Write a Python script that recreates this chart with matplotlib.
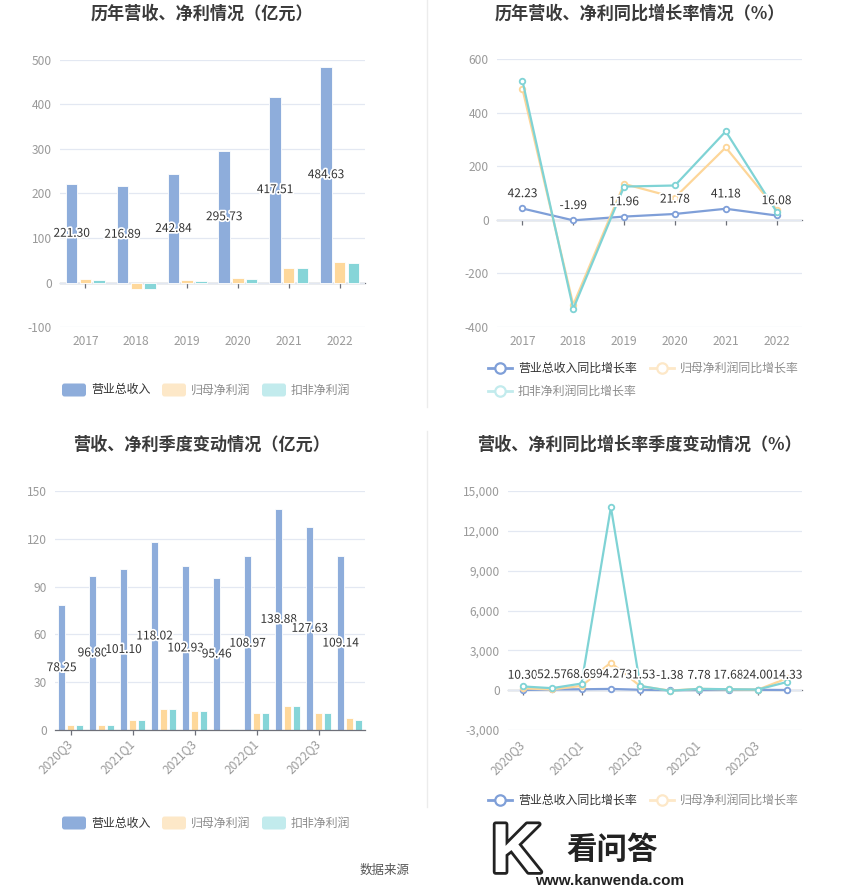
import matplotlib
matplotlib.use('Agg')
import matplotlib.pyplot as plt
import matplotlib.patheffects as pe
from matplotlib.patches import FancyBboxPatch
from matplotlib.lines import Line2D
from matplotlib.ticker import FuncFormatter, MultipleLocator
import numpy as np

plt.rcParams['font.family'] = ['Noto Sans CJK SC', 'DejaVu Sans']
plt.rcParams['axes.unicode_minus'] = False

# ---------------- data ----------------
years = ['2017', '2018', '2019', '2020', '2021', '2022']
rev_year = [221.30, 216.89, 242.84, 295.73, 417.51, 484.63]
np_year = [7.0, -14.0, 4.5, 9.0, 33.0, 46.0]
dnp_year = [6.5, -14.0, 3.0, 7.5, 33.5, 43.0]

rev_yoy = [42.23, -1.99, 11.96, 21.78, 41.18, 16.08]
np_yoy = [489, -317, 134, 83, 270, 38]
dnp_yoy = [519, -332, 124, 128, 330, 30]

quarters = ['2020Q3', '2020Q4', '2021Q1', '2021Q2', '2021Q3',
            '2021Q4', '2022Q1', '2022Q2', '2022Q3', '2022Q4']
rev_q = [78.25, 96.80, 101.10, 118.02, 102.93, 95.46, 108.97, 138.88, 127.63, 109.14]
np_q = [3.1, 3.1, 6.5, 13.0, 11.9, 0.6, 10.9, 15.3, 10.7, 7.7]
dnp_q = [3.1, 3.1, 6.5, 13.0, 12.0, 0.8, 10.9, 15.3, 10.6, 6.1]

rev_q_yoy = [10.30, 52.57, 68.69, 94.27, 31.53, -1.38, 7.78, 17.68, 24.00, 14.33]
np_q_yoy = [130, 60, 320, 2070, 300, -30, 100, 60, 40, 900]
dnp_q_yoy = [280, 150, 500, 13780, 320, -50, 100, 70, 50, 620]

bar_legend = ['营业总收入', '归母净利润', '扣非净利润']
line_legend = ['营业总收入同比增长率', '归母净利润同比增长率', '扣非净利润同比增长率']
titles = ['历年营收、净利情况（亿元）', '历年营收、净利同比增长率情况（%）',
          '营收、净利季度变动情况（亿元）', '营收、净利同比增长率季度变动情况（%）']

# ---------------- style ----------------
C_BLUE = '#8eaddb'
C_ORANGE = '#fed89b'
C_CYAN = '#86d5d8'
L_BLUE = '#7f9fd8'
L_ORANGE = '#fdd699'
L_CYAN = '#7fd3d5'
F_ORANGE = '#fde8c8'
F_CYAN = '#c2ebed'
GRID = '#e3e8f2'
AXIS = '#6e7079'
TICK = '#9a9a9a'
TXT = '#333333'
FS = 8.6

W, H = 850, 891
fig = plt.figure(figsize=(W / 100, H / 100), dpi=100)


def add_ax(l, t, r, b):
    return fig.add_axes([l / W, 1 - b / H, (r - l) / W, (b - t) / H])


def style(ax, ymin, ymax, step, ncat, fmt=None):
    ax.set_xlim(-0.5, ncat - 0.5)
    ax.set_ylim(ymin, ymax)
    ax.yaxis.set_major_locator(MultipleLocator(step))
    if fmt:
        ax.yaxis.set_major_formatter(FuncFormatter(fmt))
    ax.grid(axis='y', color=GRID, lw=0.9)
    ax.set_axisbelow(True)
    for s in ax.spines.values():
        s.set_visible(False)
    ax.tick_params(axis='y', length=0, pad=6, labelsize=FS, labelcolor=TICK)
    ax.tick_params(axis='x', length=0, pad=6, labelsize=FS, labelcolor=TICK)


def zero_axis(ax, frac, ticks):
    sec = ax.secondary_xaxis(frac)
    sec.set_xticks(ticks)
    sec.set_xticklabels([''] * len(ticks))
    sec.tick_params(direction='out', length=3.6, width=0.9, color=AXIS)
    sec.spines['bottom'].set_color(AXIS)
    sec.spines['bottom'].set_linewidth(0.9)
    sec.spines['top'].set_visible(False)
    return sec


stroke = [pe.withStroke(linewidth=2.5, foreground='white')]


def draw_bars(ax, rev, npv, dnp, w, off):
    x = np.arange(len(rev))
    ax.bar(x - off, rev, w, color=C_BLUE, edgecolor='white', lw=0.6, zorder=2)
    ax.bar(x, npv, w, color=C_ORANGE, edgecolor='white', lw=0.6, zorder=2)
    ax.bar(x + off, dnp, w, color=C_CYAN, edgecolor='white', lw=0.6, zorder=2)
    for xi, v in zip(x, rev):
        ax.text(xi - off, v / 2, f'{v:.2f}', ha='center', va='center',
                fontsize=FS, color=TXT, path_effects=stroke, zorder=5)


def draw_lines(ax, rev, npv, dnp):
    x = np.arange(len(rev))
    kw = dict(lw=1.6, marker='o', ms=4, mfc='white', mew=1.3, zorder=3)
    ax.plot(x, rev, color=L_BLUE, **kw)
    ax.plot(x, npv, color=L_ORANGE, **kw)
    ax.plot(x, dnp, color=L_CYAN, **kw)
    for xi, v in zip(x, rev):
        ax.annotate(f'{v:.2f}', (xi, v), xytext=(0, 6), textcoords='offset points',
                    ha='center', va='bottom', fontsize=FS, color=TXT,
                    path_effects=stroke, zorder=6)


def bar_legend_row(y):
    items = [(62, C_BLUE, '#333333'), (162, F_ORANGE, '#8c8c8c'), (262, F_CYAN, '#8c8c8c')]
    for (x, c, tc), lab in zip(items, bar_legend):
        p = FancyBboxPatch((x / W, 1 - (y + 6.5) / H), 24 / W, 13 / H,
                           boxstyle='round,pad=0,rounding_size=0.003',
                           transform=fig.transFigure, fc=c, ec='none')
        fig.add_artist(p)
        fig.text((x + 29) / W, 1 - y / H, lab, ha='left', va='center',
                 fontsize=FS, color=tc)


def line_legend_item(x, y, c, label, tc):
    fig.add_artist(Line2D([x / W, (x + 24) / W], [1 - y / H, 1 - y / H], color=c, lw=2,
                          transform=fig.transFigure))
    fig.add_artist(Line2D([(x + 12) / W], [1 - y / H], color=c, marker='o', ms=7.5,
                          mfc='white', mew=1.6, transform=fig.transFigure))
    fig.text((x + 30) / W, 1 - y / H, label, ha='left', va='center', fontsize=FS, color=tc)


# ---------------- chart 1 ----------------
ax1 = add_ax(60, 60, 365, 327)
style(ax1, -100, 500, 100, 6)
draw_bars(ax1, rev_year, np_year, dnp_year, 0.226, 0.27)
ax1.set_xticks(range(6))
ax1.set_xticklabels(years)
zero_axis(ax1, 100 / 600, list(range(6)))
bar_legend_row(390)

# ---------------- chart 2 ----------------
ax2 = add_ax(497, 59, 802, 327)
style(ax2, -400, 600, 200, 6)
draw_lines(ax2, rev_yoy, np_yoy, dnp_yoy)
ax2.set_xticks(range(6))
ax2.set_xticklabels(years)
zero_axis(ax2, 400 / 1000, list(range(6)))
line_legend_item(488, 368, L_BLUE, line_legend[0], '#333333')
line_legend_item(650, 368, F_ORANGE, line_legend[1], '#8c8c8c')
line_legend_item(488, 391, F_CYAN, line_legend[2], '#8c8c8c')

# ---------------- chart 3 ----------------
ax3 = add_ax(55, 491, 365, 730)
style(ax3, 0, 150, 30, 10)
draw_bars(ax3, rev_q, np_q, dnp_q, 0.23, 0.285)
ax3.spines['bottom'].set_visible(True)
ax3.spines['bottom'].set_color(AXIS)
ax3.spines['bottom'].set_linewidth(0.9)
ax3.set_xticks(range(0, 10, 2))
ax3.set_xticklabels(quarters[::2], rotation=45, ha='right', va='center',
                    rotation_mode='anchor')
ax3.tick_params(axis='x', length=3.6, width=0.9, color=AXIS, pad=5)
bar_legend_row(823)

# ---------------- chart 4 ----------------
ax4 = add_ax(508, 491, 802, 730)
style(ax4, -3000, 15000, 3000, 10, fmt=lambda v, p: f'{v:,.0f}')
draw_lines(ax4, rev_q_yoy, np_q_yoy, dnp_q_yoy)
ax4.set_xticks(range(0, 10, 2))
ax4.set_xticklabels(quarters[::2], rotation=45, ha='right', va='center',
                    rotation_mode='anchor')
ax4.tick_params(axis='x', pad=9)
zero_axis(ax4, 3000 / 18000, list(range(0, 10, 2)))
line_legend_item(488, 800, L_BLUE, line_legend[0], '#333333')
line_legend_item(650, 800, F_ORANGE, line_legend[1], '#8c8c8c')

# ---------------- titles ----------------
for (cx, cy), t in zip([(202, 14), (640, 14), (202, 445), (639, 445)], titles):
    fig.text(cx / W, 1 - cy / H, t, ha='center', va='center', fontsize=12.3,
             fontweight='bold', color='#3a3a3a')

# separators
fig.add_artist(Line2D([427 / W] * 2, [1, 1 - 407 / H], color='#ececec', lw=1,
                      transform=fig.transFigure))
fig.add_artist(Line2D([427 / W] * 2, [1 - 431 / H, 1 - 807 / H], color='#ececec', lw=1,
                      transform=fig.transFigure))

# footer / watermark
fig.text(385 / W, 1 - 870 / H, '数据来源', ha='center', va='center', fontsize=9, color='#555555')
fig.text(516 / W, 1 - 854 / H, 'K', ha='center', va='center', fontsize=50,
         family='Liberation Sans', fontweight='bold', color='white',
         path_effects=[pe.withStroke(linewidth=4, foreground='#222222')])
fig.text(612 / W, 1 - 850 / H, '看问答', ha='center', va='center', fontsize=22,
         fontweight='bold', color='#222222')
fig.text(610 / W, 1 - 881 / H, 'www.kanwenda.com', ha='center', va='center', fontsize=11,
         family='Liberation Sans', fontweight='bold', color='#222222')

fig.savefig('out.png', dpi=100, facecolor='white')
